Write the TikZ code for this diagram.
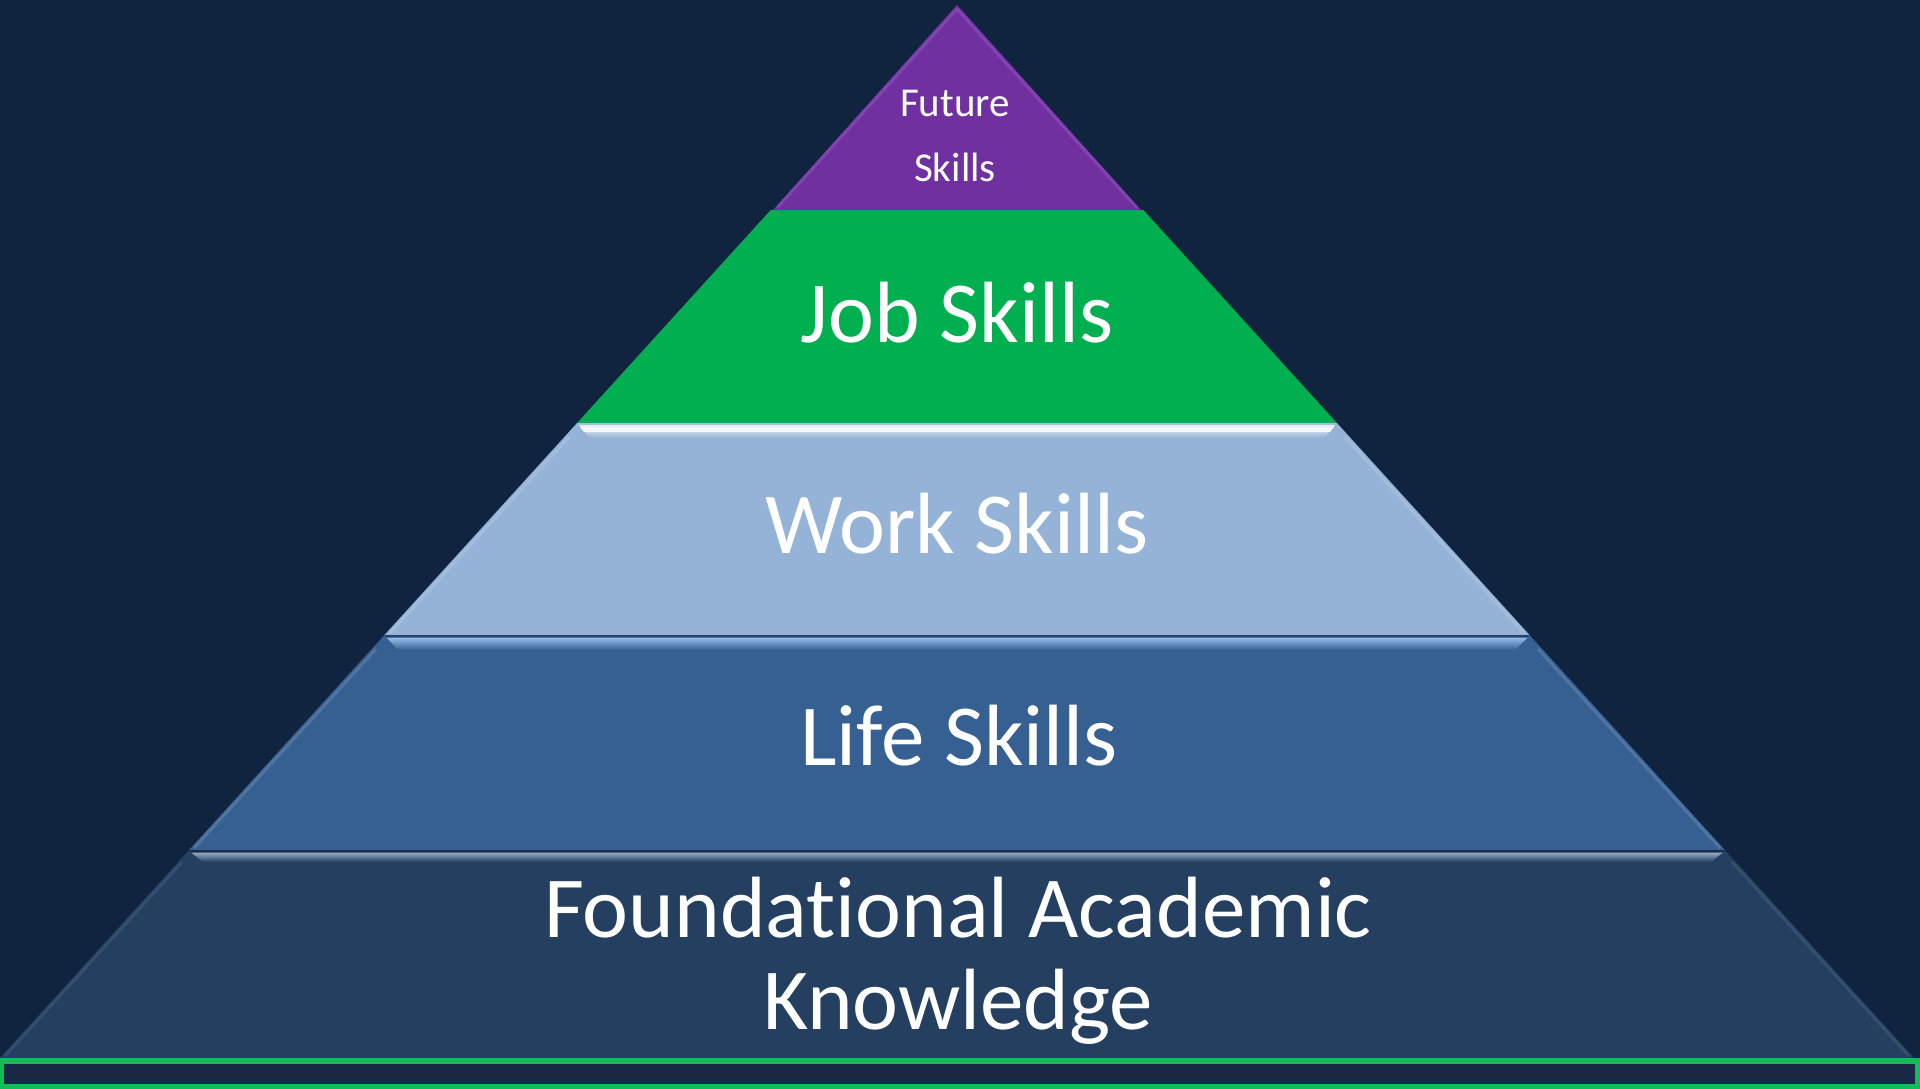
\documentclass[tikz,border=0pt]{standalone}
\usepackage{fontspec}
\setmainfont{Carlito}[Ligatures={NoCommon}]
\definecolor{bg}{RGB}{16,36,63}
\definecolor{purp}{RGB}{112,48,160}
\definecolor{purpedge}{RGB}{140,80,185}
\definecolor{grn}{RGB}{0,176,80}
\definecolor{work}{RGB}{149,179,215}
\definecolor{life}{RGB}{54,96,146}
\definecolor{found}{RGB}{36,63,96}
\definecolor{barfill}{RGB}{24,41,69}
\definecolor{barline}{RGB}{16,190,88}
\definecolor{lifehl}{RGB}{150,188,236}
\definecolor{foundhl}{RGB}{150,170,198}
\tikzset{
  lbl/.style={text=white, inner sep=0pt, align=center, anchor=base},
  bigtxt/.style={font=\fontsize{87}{92}\selectfont},
  edgehl/.style={line width=3pt, white, opacity=0.13},
}
\begin{document}
\begin{tikzpicture}[x=1pt,y=-1pt]
\useasboundingbox (0,0) rectangle (1920,1089);
\fill[bg] (0,0) rectangle (1920,1089);

% layers
\fill[found] (189.1,850) -- (1724.9,850) -- (1914,1058) -- (0,1058) -- cycle;
\fill[life] (384.5,635) -- (1529.5,635) -- (1724.9,850) -- (189.1,850) -- cycle;
\fill[work] (577.1,423) -- (1336.9,423) -- (1529.5,635) -- (384.5,635) -- cycle;
\fill[grn] (770.7,210) -- (1143.3,210) -- (1336.9,423) -- (577.1,423) -- cycle;
\fill[purp] (957,5) -- (1141,210) -- (773,210) -- cycle;

% side highlights (bevel)
\draw[line width=3pt, purpedge, opacity=0.6] (957,9) -- (777,208);
\draw[line width=3pt, purpedge, opacity=0.6] (957,9) -- (1137,208);
\draw[edgehl] (569,437) -- (390,633);
\draw[edgehl] (1345,437) -- (1524,633);
\draw[edgehl] (376,649) -- (194,848);
\draw[edgehl] (1538,649) -- (1720,848);
\draw[edgehl, opacity=0.08] (182,862) -- (5,1056);
\draw[edgehl, opacity=0.08] (1732,862) -- (1909,1056);

% top bevel strips
\fill[work!85!white] (577.1,423) -- (1336.9,423) -- (1335,425) -- (579,425) -- cycle;
\shade[top color=white!80!work, bottom color=work]
  (579,425) -- (1335,425) -- (1324,438) -- (590,438) -- cycle;
\fill[white!90!work] (580,427) -- (1334,427) -- (1330,432) -- (584,432) -- cycle;

\fill[life!70!black] (384.5,635) -- (1529.5,635) -- (1527.5,637.5) -- (386.5,637.5) -- cycle;
\shade[top color=lifehl, bottom color=life]
  (386.5,637.5) -- (1527.5,637.5) -- (1515,650) -- (398,650) -- cycle;

\fill[found!70!black] (189.1,850) -- (1724.9,850) -- (1722.9,852.5) -- (191.1,852.5) -- cycle;
\shade[top color=foundhl, bottom color=found]
  (191.1,852.5) -- (1722.9,852.5) -- (1711,862) -- (203,862) -- cycle;

% bottom bar
\draw[barline, line width=5.5pt, fill=barfill] (1.5,1061) rectangle (1917.3,1086.3);

% labels
\node[lbl, font=\fontsize{41}{65}\selectfont] (future) at (955,182) {Future\\Skills};
\node[lbl, bigtxt] (job) at (957,342) {Job Skills};
\node[lbl, bigtxt] (workl) at (957,553) {Work Skills};
\node[lbl, bigtxt] (lifel) at (959,765) {Life Skills};
\node[lbl, bigtxt] (foundl) at (958,1029) {Foundational Academic\\Knowledge};
\end{tikzpicture}
\end{document}
